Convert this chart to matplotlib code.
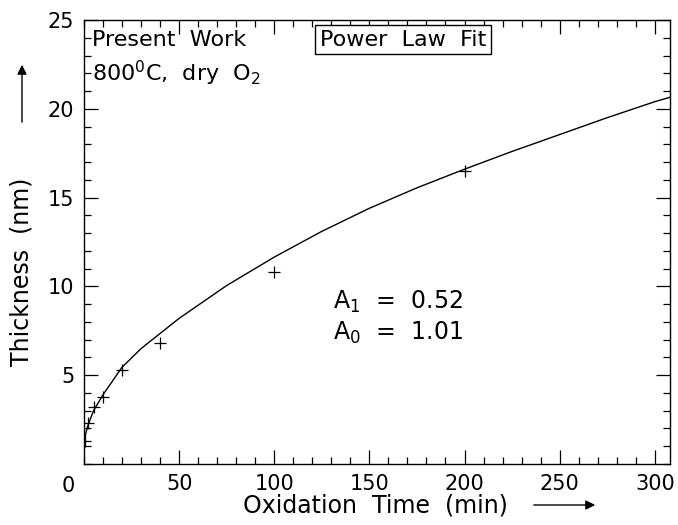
import matplotlib
matplotlib.use("Agg")
import matplotlib.pyplot as plt
from matplotlib.patches import FancyArrowPatch
from matplotlib.ticker import MultipleLocator

plt.rcParams['font.family'] = ['DejaVu Sans']
plt.rcParams['mathtext.default'] = 'regular'

# measured points
time_pts = [0.5, 2, 5, 10, 20, 40, 100, 200]
thick_pts = [1.3, 2.3, 3.2, 3.8, 5.3, 6.8, 10.8, 16.5]

# power law fit curve
time_fit = [0, 0.5, 1, 2, 5, 10, 20, 30, 40, 50, 75, 100, 125, 150, 175, 200, 225, 250, 275, 300, 308]
thick_fit = [1.0, 1.45, 1.75, 2.15, 3.0, 3.9, 5.45, 6.5, 7.35, 8.2, 10.05, 11.65, 13.1, 14.4, 15.55,
             16.6, 17.6, 18.55, 19.5, 20.4, 20.65]

x_ticks = [50, 100, 150, 200, 250, 300]
y_ticks = [5, 10, 15, 20, 25]

fig = plt.figure(figsize=(6.78, 5.25), dpi=100)
ax = fig.add_axes([84 / 678, 1 - 464 / 525, (670 - 84) / 678, (464 - 20) / 525])

ax.plot(time_fit, thick_fit, color='black', lw=1.0)
ax.plot(time_pts, thick_pts, linestyle='none', marker='+', color='black', ms=9, mew=0.9)

ax.set_xlim(0, 308)
ax.set_ylim(0, 25)
ax.set_xticks(x_ticks)
ax.set_yticks(y_ticks)
ax.xaxis.set_minor_locator(MultipleLocator(10))
ax.yaxis.set_minor_locator(MultipleLocator(1))
ax.tick_params(which='both', direction='in', top=True, right=True, width=0.9)
ax.tick_params(which='major', length=10, labelsize=15, pad=7)
ax.tick_params(which='minor', length=5)
for s in ax.spines.values():
    s.set_linewidth(1.0)

# shared origin label
ax.text(-0.016, -0.027, '0', transform=ax.transAxes, ha='right', va='top', fontsize=15)

# axis labels with arrows
fig.text(375 / 678, 1 - 505 / 525, 'Oxidation  Time  (min)', ha='center', va='center', fontsize=17)
fig.add_artist(FancyArrowPatch((531 / 678, 1 - 505 / 525), (598 / 678, 1 - 505 / 525),
                               transform=fig.transFigure, arrowstyle='-|>',
                               mutation_scale=14, color='black', lw=1.0))
fig.text(22 / 678, 1 - 272 / 525, 'Thickness  (nm)', ha='center', va='center', rotation=90, fontsize=17)
fig.add_artist(FancyArrowPatch((22 / 678, 1 - 125 / 525), (22 / 678, 1 - 62 / 525),
                               transform=fig.transFigure, arrowstyle='-|>',
                               mutation_scale=14, color='black', lw=1.0))

# annotations
ax.text(4, 23.9, 'Present  Work', fontsize=16, va='center')
ax.text(4, 22.0, '800$^0$C,  dry  O$_2$', fontsize=16, va='center')
ax.text(124, 23.9, 'Power  Law  Fit', fontsize=16, va='center',
        bbox=dict(boxstyle='square,pad=0.2', fc='white', ec='black', lw=1.0))
ax.text(131, 9.1, 'A$_1$  =  0.52', fontsize=17, va='center')
ax.text(131, 7.4, 'A$_0$  =  1.01', fontsize=17, va='center')

plt.savefig('out.png', dpi=100)
